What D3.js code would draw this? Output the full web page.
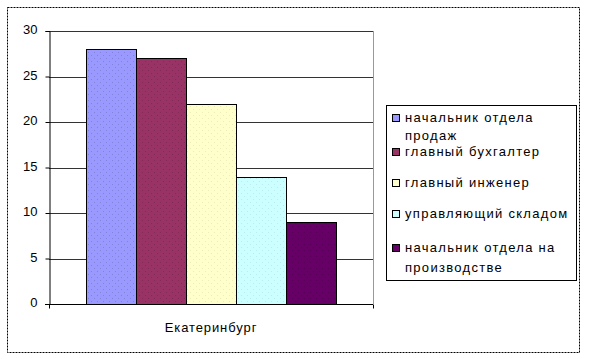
<!DOCTYPE html>
<html><head><meta charset="utf-8">
<script src="https://cdn.jsdelivr.net/npm/d3@7"></script>
<style>body{margin:0;background:#fff}svg{display:block}text{font-family:Arial,"Liberation Sans",sans-serif}</style>
</head><body>
<script>
const categories = ["Екатеринбург"];
const seriesNames = ["начальник отдела продаж","главный бухгалтер","главный инженер","управляющий складом","начальник отдела на производстве"];
const seriesValues = [28, 27, 22, 14, 9];
const seriesColors = ["#9999FF","#993366","#FFFFCC","#CCFFFF","#660066"];
const legendLines = [["начальник отдела","продаж"],["главный бухгалтер"],["главный инженер"],["управляющий складом"],["начальник отдела на","производстве"]];
const yTicks = [0,5,10,15,20,25,30];

const W=589,H=359;
const FONT="Arial,'Liberation Sans',sans-serif";
const svg=d3.select("body").append("svg").attr("width",W).attr("height",H);
const defs=svg.append("defs");
seriesColors.forEach((c,i)=>{
  const p=defs.append("pattern").attr("id","p"+i).attr("patternUnits","userSpaceOnUse").attr("width",6).attr("height",6);
  p.append("rect").attr("width",6).attr("height",6).attr("fill",c);
  const dc=d3.color(c); const dark=i===2||i===3?dc.darker(0.4):dc.darker(0.8);
  p.append("rect").attr("x",1).attr("y",1).attr("width",1).attr("height",1).attr("fill",dark).attr("opacity",0.6);
  p.append("rect").attr("x",4).attr("y",4).attr("width",1).attr("height",1).attr("fill",dark).attr("opacity",0.6);
});

// outer border
svg.append("rect").attr("x",7.5).attr("y",7.5).attr("width",572).attr("height",345)
  .attr("fill","none").attr("stroke","#000").attr("stroke-dasharray","2,1");

const plot={l:49,r:373,t:31,b:304};
const x=d3.scaleBand().domain(categories).range([plot.l,plot.r]).paddingInner(0).paddingOuter(0.15);
const xs=d3.scaleBand().domain(d3.range(seriesValues.length)).range([0,x.bandwidth()]);
const y=d3.scaleLinear().domain([0,30]).range([plot.b,plot.t]);

// gridlines
svg.append("g").selectAll("line").data(yTicks.filter(d=>d>0)).join("line")
  .attr("x1",plot.l).attr("x2",plot.r).attr("y1",d=>Math.round(y(d))+0.5).attr("y2",d=>Math.round(y(d))+0.5)
  .attr("stroke","#333").attr("stroke-width",1);
// plot right border
svg.append("line").attr("x1",plot.r+0.5).attr("x2",plot.r+0.5).attr("y1",plot.t).attr("y2",plot.b)
  .attr("stroke","#999");

// bars
const cat=categories[0];
svg.append("g").selectAll("rect").data(seriesValues).join("rect")
  .attr("x",(d,i)=>Math.round(x(cat)+xs(i))+0.5)
  .attr("y",d=>Math.round(y(d))+0.5)
  .attr("width",(d,i)=>Math.round(x(cat)+xs(i)+xs.bandwidth())-Math.round(x(cat)+xs(i)))
  .attr("height",d=>Math.round(y(0))-Math.round(y(d)))
  .attr("fill",(d,i)=>`url(#p${i})`).attr("stroke","#000").attr("stroke-width",1);

// y axis
const ya=svg.append("g").attr("transform",`translate(${plot.l+0.5},0)`)
  .call(d3.axisLeft(y).tickValues(yTicks).tickSize(4).tickPadding(8).tickFormat(d3.format("d")));
ya.select(".domain").attr("stroke","#000");
ya.selectAll("text").attr("font-size",13).attr("fill","#000").attr("font-family",FONT).attr("dy","0.2em");
ya.selectAll("line").attr("stroke","#000");
// x axis
const xa=svg.append("g").attr("transform",`translate(0,${plot.b+0.5})`)
  .call(d3.axisBottom(x).tickSize(4).tickPadding(14));
xa.select(".domain").remove();
xa.append("line").attr("x1",plot.l-4).attr("x2",plot.r).attr("stroke","#000");
xa.selectAll(".tick line").remove();
[plot.l,plot.r].forEach(px=>xa.append("line").attr("x1",px+0.5).attr("x2",px+0.5).attr("y1",0).attr("y2",4).attr("stroke","#000"));
xa.selectAll("text").attr("font-size",13).attr("fill","#000").attr("font-family",FONT).attr("letter-spacing","0.9px");

// legend
const lg=svg.append("g");
lg.append("rect").attr("x",386.5).attr("y",105.5).attr("width",190).attr("height",175)
  .attr("fill","#fff").attr("stroke","#000");
const baseY=[122,156,187,218,252];
const lineGap=[18,20,20,20,20];
legendLines.forEach((lines,i)=>{
  lg.append("rect").attr("x",392.5).attr("y",baseY[i]-7.5).attr("width",7).attr("height",7)
    .attr("fill",seriesColors[i]).attr("stroke","#000");
  lines.forEach((t,j)=>{
    lg.append("text").attr("x",405).attr("y",baseY[i]+j*lineGap[i])
      .attr("font-size",13).attr("letter-spacing","1.3px").attr("fill","#000").text(t);
  });
});
</script>
</body></html>
